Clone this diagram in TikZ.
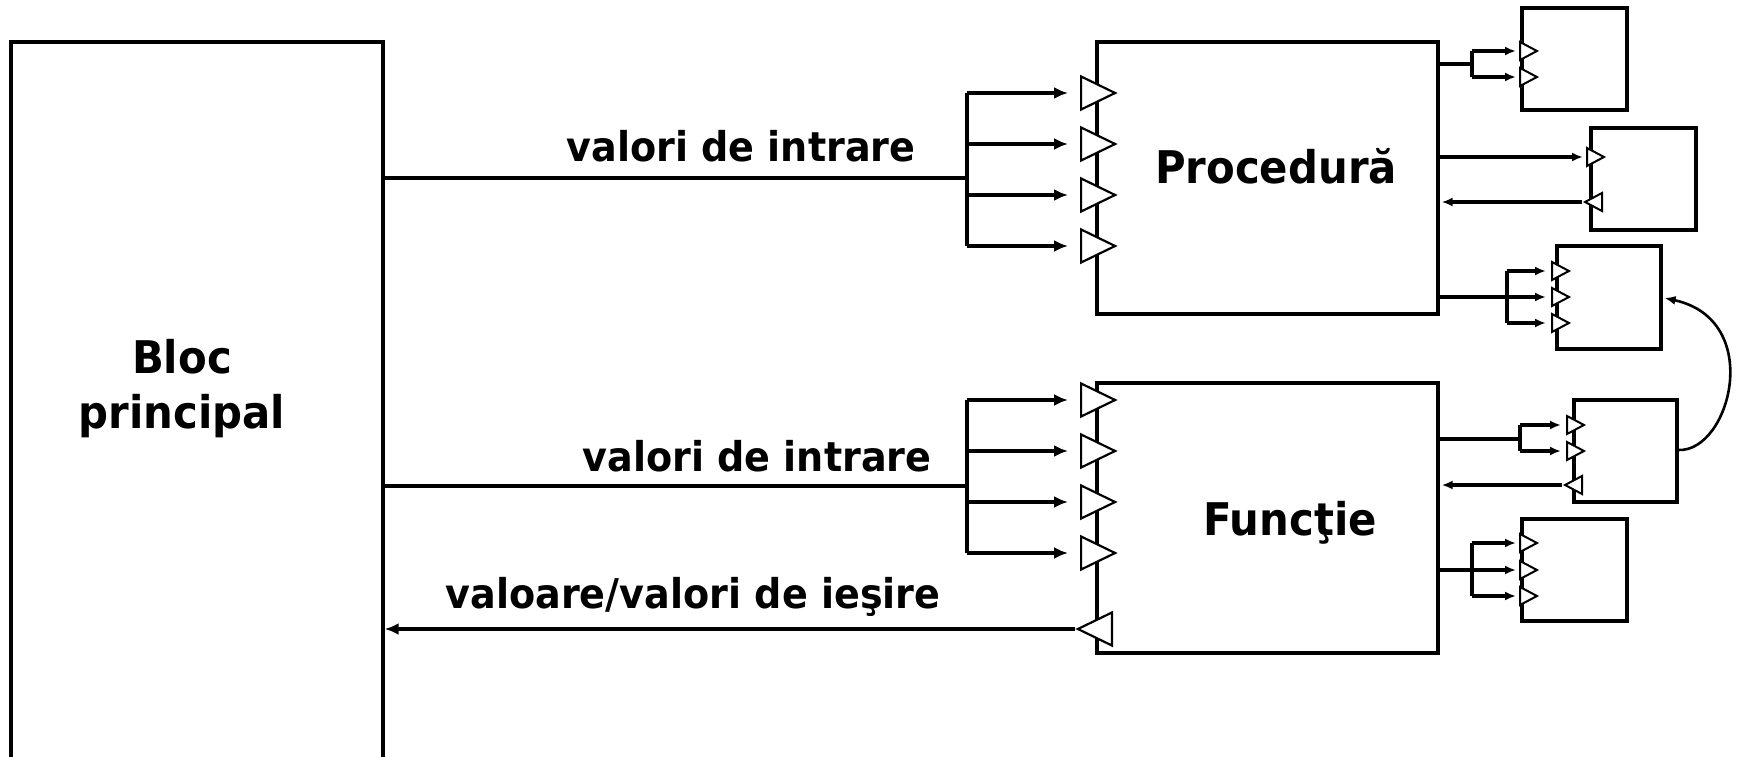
\documentclass[tikz,border=0pt]{standalone}
\usepackage{fontspec}
\setmainfont{DejaVu Sans}
\newfontfamily\labfont[FakeStretch=0.93]{DejaVu Sans}
\usetikzlibrary{shapes.geometric,arrows.meta}
\begin{document}
\begin{tikzpicture}[x=1pt,y=-1pt,
  conn/.style={line width=3.1pt},
  arr/.style={conn,-{Latex[length=14pt,width=12pt]}},
  sarr/.style={conn,-{Latex[length=11pt,width=9pt]}},
  bigbox/.style={draw,line width=3.3pt,inner sep=0pt},
  smallbox/.style={draw,line width=3.1pt,inner sep=0pt,minimum width=104pt,minimum height=102pt},
  bigport/.style={isosceles triangle,isosceles triangle stretches,draw,fill=white,line width=2.2pt,inner sep=0pt,minimum width=33pt,minimum height=34pt,anchor=lower side},
  smallport/.style={isosceles triangle,isosceles triangle stretches,draw,fill=white,line width=2pt,inner sep=0pt,minimum width=18pt,minimum height=17pt,anchor=lower side},
  lft/.style={shape border rotate=180},
  labeltext/.style={font=\labfont\bfseries\fontsize{41}{49}\selectfont,inner sep=0pt,anchor=base},
  titletext/.style={font=\labfont\bfseries\fontsize{45}{55}\selectfont,inner sep=0pt,align=center}
]
\useasboundingbox (0,0) rectangle (1741,757);
\clip (0,0) rectangle (1741,757);

% main boxes
\node[bigbox,minimum width=372pt,minimum height=760pt] (bloc) at (197,422) {};
\node[bigbox,minimum width=341pt,minimum height=272pt] (proc) at (1267.5,178) {};
\node[bigbox,minimum width=341pt,minimum height=270pt] (func) at (1267.5,518) {};

% small boxes
\node[smallbox,minimum width=105pt] (ba) at (1574.5,59) {};
\node[smallbox,minimum width=105pt] (bb) at (1643.5,179) {};
\node[smallbox,minimum height=103pt] (bc) at (1609,297.5) {};
\node[smallbox,minimum width=103pt] (bd) at (1625.5,451) {};
\node[smallbox,minimum width=105pt] (be) at (1574.5,570) {};

% texts
\node[titletext] (bloctxt) at (182,389) {Bloc\\principal};
\node[titletext,anchor=base] (proctxt) at (1276,183) {Procedură};
\node[titletext,anchor=base] (functxt) at (1290,535) {Funcţie};
\node[labeltext] (lab1) at (741,162) {valori de intrare};
\node[labeltext] (lab2) at (757,471) {valori de intrare};
\node[labeltext] (lab3) at (693,608) {valoare/valori de ieşire};

% ports of the procedure
\foreach \i/\y in {1/93,2/144,3/195,4/246}
  \node[bigport] (pi\i) at (1080,\y) {};
% ports of the function
\foreach \i/\y in {1/400,2/451,3/502,4/553}
  \node[bigport] (fi\i) at (1080,\y) {};
\node[bigport,lft] (fo) at (1113,629) {};

% ports of the small boxes
\node[smallport] (pa1) at (1519,51) {};
\node[smallport] (pa2) at (1519,77) {};
\node[smallport] (pb1) at (1586,157) {};
\node[smallport,lft] (pb2) at (1603,202) {};
\node[smallport] (pc1) at (1551,271) {};
\node[smallport] (pc2) at (1551,297) {};
\node[smallport] (pc3) at (1551,323) {};
\node[smallport] (pd1) at (1566,425) {};
\node[smallport] (pd2) at (1566,451) {};
\node[smallport,lft] (pd3) at (1583,485) {};
\node[smallport] (pe1) at (1519,543) {};
\node[smallport] (pe2) at (1519,570) {};
\node[smallport] (pe3) at (1519,596) {};

% inputs of the procedure
\coordinate (jp) at (967,178);
\draw[conn] (bloc.east |- jp) -- (jp);
\draw[conn] (jp |- pi1) -- (jp |- pi4);
\foreach \i in {1,...,4}
  \draw[arr] (jp |- pi\i) -- ([xshift=-12pt]pi\i.lower side);

% inputs of the function
\coordinate (jf) at (967,486);
\draw[conn] (bloc.east |- jf) -- (jf);
\draw[conn] (jf |- fi1) -- (jf |- fi4);
\foreach \i in {1,...,4}
  \draw[arr] (jf |- fi\i) -- ([xshift=-12pt]fi\i.lower side);

% output of the function
\draw[arr] (fo.apex) -- (bloc.east |- fo.apex);

% procedure -> box A
\coordinate (ja) at (1472,64);
\draw[conn] (proc.east |- ja) -- (ja);
\draw[conn] (ja |- pa1) -- (ja |- pa2);
\draw[sarr] (ja |- pa1) -- ([xshift=-3pt]pa1.lower side);
\draw[sarr] (ja |- pa2) -- ([xshift=-3pt]pa2.lower side);

% procedure <-> box B
\draw[sarr] (proc.east |- pb1) -- ([xshift=-3pt]pb1.lower side);
\draw[sarr] (pb2.apex) -- ([xshift=2pt]proc.east |- pb2.apex);

% procedure -> box C
\coordinate (jc) at (1507,297);
\draw[conn] (proc.east |- jc) -- (jc);
\draw[conn] (jc |- pc1) -- (jc |- pc3);
\foreach \i in {1,2,3}
  \draw[sarr] (jc |- pc\i.lower side) -- ([xshift=-5pt]pc\i.lower side);

% function -> box D
\coordinate (jd) at (1520,439);
\draw[conn] (func.east |- jd) -- (jd);
\draw[conn] (jd |- pd1.lower side) -- (jd |- pd2.lower side);
\draw[sarr] (jd |- pd1.lower side) -- ([xshift=-5pt]pd1.lower side);
\draw[sarr] (jd |- pd2.lower side) -- ([xshift=-5pt]pd2.lower side);
\draw[sarr] (pd3.apex) -- ([xshift=2pt]func.east |- pd3.apex);

% function -> box E
\coordinate (je) at (1472,570);
\draw[conn] (func.east |- je) -- (je);
\draw[conn] (je |- pe1.lower side) -- (je |- pe3.lower side);
\foreach \i in {1,2,3}
  \draw[sarr] (je |- pe\i.lower side) -- ([xshift=-3pt]pe\i.lower side);

% box D -> box C
\draw[sarr,line width=2.6pt] (bd.east |- 0,450) .. controls (1730,452) and (1765,320) .. ([xshift=2pt]bc.east |- 0,298);
\end{tikzpicture}
\end{document}
